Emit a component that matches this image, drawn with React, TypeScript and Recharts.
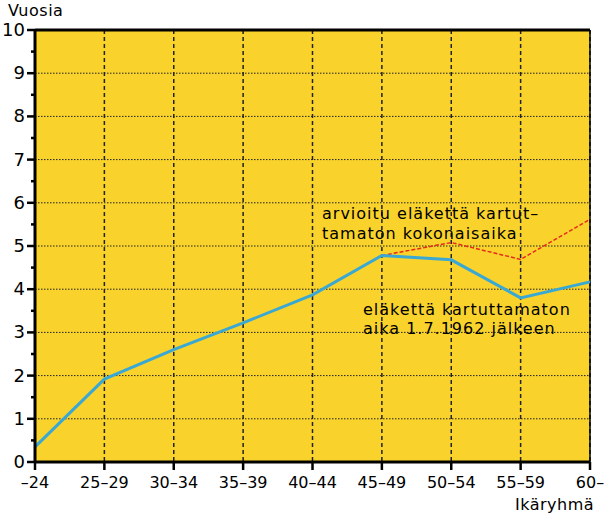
import React from 'react';
import { LineChart, Line, XAxis, YAxis, CartesianGrid, ReferenceLine } from 'recharts';

const ageGroups = ['–24', '25–29', '30–34', '35–39', '40–44', '45–49', '50–54', '55–59', '60–'];
const afterYears = [0.35, 1.92, 2.6, 3.22, 3.87, 4.78, 4.68, 3.8, 4.17];
const totalYears = [null, null, null, null, null, 4.78, 5.08, 4.69, 5.62];
const yTicks = [0, 0.5, 1, 1.5, 2, 2.5, 3, 3.5, 4, 4.5, 5, 5.5, 6, 6.5, 7, 7.5, 8, 8.5, 9, 9.5, 10];
const gridYears = [1, 2, 3, 4, 5, 6, 7, 8, 9];

const data = ageGroups.map((g, i) => ({ group: g, after: afterYears[i], total: totalYears[i] }));

const FONT = '"DejaVu Sans", sans-serif';

const YTick = (props: any) => {
  const { x, y, payload } = props;
  const major = Number.isInteger(payload.value);
  return (
    <g>
      <line x1={x + (major ? 2 : 6)} x2={x + 10} y1={y} y2={y} stroke="#000" strokeWidth={2.5} />
      {major && (
        <text x={x} y={y} dy={6} textAnchor="end" fontSize={18} fontFamily={FONT} fill="#000">
          {payload.value}
        </text>
      )}
    </g>
  );
};

const textStyle: React.CSSProperties = {
  position: 'absolute',
  fontFamily: FONT,
  fontSize: 16,
  letterSpacing: 1,
  color: '#000',
  lineHeight: '20px',
  whiteSpace: 'nowrap',
};

export default function App() {
  return (
    <div style={{ position: 'absolute', left: 0, top: 0, width: 604, height: 516, background: '#fff' }}>
      <LineChart width={604} height={516} data={data} margin={{ top: 30, right: 14, left: 0, bottom: 24 }}>
        <CartesianGrid
          fill="#f9d32c"
          horizontal={false}
          stroke="#222"
          strokeDasharray="4 3"
          strokeWidth={1.5}
        />
        {gridYears.map((v) => (
          <ReferenceLine key={v} y={v} stroke="#222" strokeDasharray="1.5 1.5" strokeWidth={1} />
        ))}
        <ReferenceLine y={10} stroke="#000" strokeWidth={3} />
        <ReferenceLine x="60–" stroke="#000" strokeWidth={1.5} />
        <XAxis
          dataKey="group"
          interval={0}
          stroke="#000"
          strokeWidth={3}
          tickSize={8}
          tickLine={{ stroke: '#000', strokeWidth: 2.5 }}
          tick={{ fill: '#000', fontSize: 16, fontFamily: FONT }}
          tickMargin={7}
        />
        <YAxis
          domain={[0, 10]}
          ticks={yTicks}
          interval={0}
          width={35}
          stroke="#000"
          strokeWidth={3}
          tickLine={false}
          tickSize={8}
          tickMargin={2}
          tick={<YTick />}
        />
        <Line
          dataKey="total"
          stroke="#e82a1c"
          strokeWidth={1.5}
          strokeDasharray="4 2"
          dot={false}
          connectNulls={false}
          isAnimationActive={false}
        />
        <Line
          dataKey="after"
          stroke="#3aa8d2"
          strokeWidth={3}
          dot={false}
          isAnimationActive={false}
        />
      </LineChart>
      <div style={{ ...textStyle, left: 8, top: 2, lineHeight: '18px', letterSpacing: 0.5 }}>Vuosia</div>
      <div style={{ ...textStyle, left: 515, top: 495, letterSpacing: 0.5 }}>Ikäryhmä</div>
      <div style={{ ...textStyle, left: 322, top: 204 }}>
        arvioitu eläkettä kartut–
        <br />
        tamaton kokonaisaika
      </div>
      <div style={{ ...textStyle, left: 363, top: 300, lineHeight: '19px' }}>
        eläkettä kartuttamaton
        <br />
        aika 1.7.1962 jälkeen
      </div>
    </div>
  );
}
